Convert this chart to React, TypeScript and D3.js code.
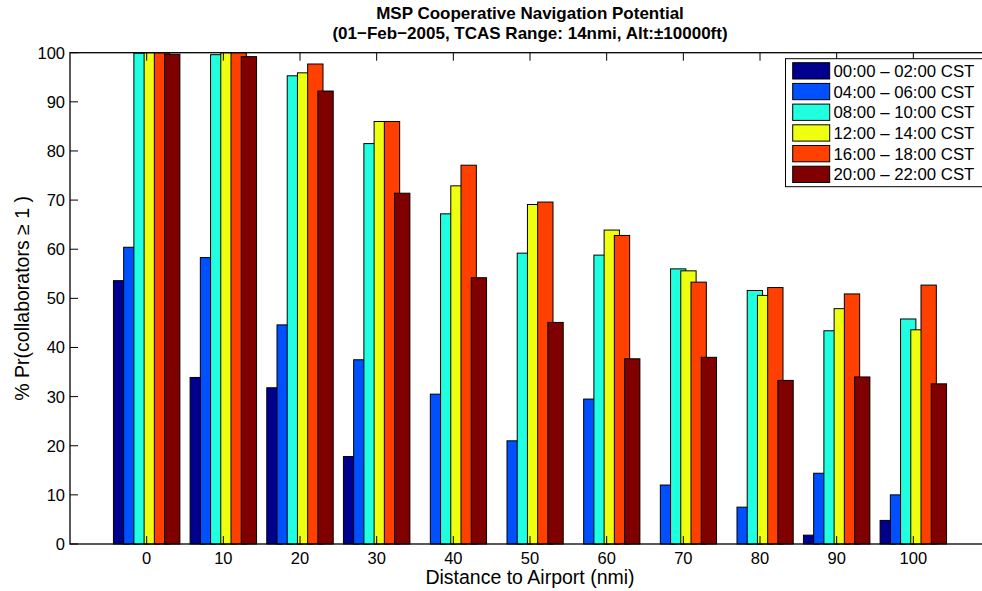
import React from "react";
import * as d3 from "d3";

// Distance bins (nmi) on the x axis
const distances = [0, 10, 20, 30, 40, 50, 60, 70, 80, 90, 100];

// Percent of aircraft with at least one collaborator, per time window
const win0002 = [53.6, 33.9, 31.8, 17.8, 0, 0, 0, 0, 0, 1.8, 4.8];
const win0406 = [60.4, 58.3, 44.6, 37.5, 30.5, 21.0, 29.5, 12.0, 7.5, 14.4, 10.0];
const win0810 = [99.9, 99.6, 95.3, 81.5, 67.2, 59.2, 58.8, 56.0, 51.6, 43.4, 45.8];
const win1214 = [100, 100, 95.9, 86.0, 72.9, 69.1, 63.9, 55.6, 50.6, 47.9, 43.6];
const win1618 = [100, 100, 97.7, 86.0, 77.1, 69.6, 62.8, 53.3, 52.2, 50.9, 52.7];
const win2022 = [99.7, 99.2, 92.2, 71.4, 54.2, 45.1, 37.7, 38.0, 33.3, 34.0, 32.6];

const seriesNames = [
  "00:00 \u2013 02:00 CST",
  "04:00 \u2013 06:00 CST",
  "08:00 \u2013 10:00 CST",
  "12:00 \u2013 14:00 CST",
  "16:00 \u2013 18:00 CST",
  "20:00 \u2013 22:00 CST",
];
const seriesValues = [win0002, win0406, win0810, win1214, win1618, win2022];
const seriesColors = ["#00008f", "#0050ff", "#20ffdf", "#efff10", "#ff4000", "#800000"];

const yTicks = [0, 10, 20, 30, 40, 50, 60, 70, 80, 90, 100];

const W = 982;
const H = 591;
const FONT = "'Liberation Sans', Arial, Helvetica, sans-serif";

export default function App() {
  const left = 70;
  const right = 990;
  const top = 52.7;
  const bottom = 544;

  const x = d3.scaleLinear().domain([-10, 110]).range([left, right]);
  const y = d3.scaleLinear().domain([0, 100]).range([bottom, top]);

  // grouped bar geometry in data units
  const nSeries = seriesValues.length;
  const step = (10 * 0.8) / nSeries;
  const barW = 2.0;
  const tickLen = 8;

  const bars: React.ReactNode[] = [];
  seriesValues.forEach((vals, s) => {
    vals.forEach((v, i) => {
      const cx = distances[i] + (s - (nSeries - 1) / 2) * step;
      const x0 = x(cx - barW / 2);
      const x1 = x(cx + barW / 2);
      bars.push(
        <rect
          key={`b-${s}-${i}`}
          x={x0}
          y={y(v)}
          width={x1 - x0}
          height={y(0) - y(v)}
          fill={seriesColors[s]}
          stroke="#000"
          strokeWidth={1}
        />
      );
    });
  });

  const legX = 785.5;
  const legY = 58.7;
  const rowH = 20.7;

  return (
    <svg
      width={W}
      height={H}
      style={{ position: "absolute", left: 0, top: 0, background: "#fff" }}
      fontFamily={FONT}
    >
      <rect x={0} y={0} width={W} height={H} fill="#fff" />
      <rect x={left} y={top} width={right - left} height={bottom - top} fill="#fff" />

      {bars}

      {/* axes box */}
      <rect
        x={left}
        y={top}
        width={right - left}
        height={bottom - top}
        fill="none"
        stroke="#000"
        strokeWidth={1.3}
      />

      {/* y ticks both sides */}
      {yTicks.map((t) => (
        <g key={`yt-${t}`}>
          <line x1={left} x2={left + tickLen} y1={y(t)} y2={y(t)} stroke="#000" strokeWidth={1} />
          <line x1={right} x2={right - tickLen} y1={y(t)} y2={y(t)} stroke="#000" strokeWidth={1} />
          <text
            x={left - 5}
            y={y(t)}
            dy="0.36em"
            textAnchor="end"
            fontSize={16.5}
            fill="#000"
          >
            {t}
          </text>
        </g>
      ))}

      {/* x ticks top and bottom */}
      {distances.map((d) => (
        <g key={`xt-${d}`}>
          <line x1={x(d)} x2={x(d)} y1={bottom} y2={bottom - tickLen} stroke="#000" strokeWidth={1} />
          <line x1={x(d)} x2={x(d)} y1={top} y2={top + tickLen} stroke="#000" strokeWidth={1} />
          <text x={x(d)} y={564} textAnchor="middle" fontSize={16.5} fill="#000">
            {d}
          </text>
        </g>
      ))}

      {/* axis labels */}
      <text x={(left + right) / 2} y={584} textAnchor="middle" fontSize={19.5} fill="#000">
        Distance to Airport (nmi)
      </text>
      <text
        transform={`translate(29,${(top + bottom) / 2}) rotate(-90)`}
        textAnchor="middle"
        fontSize={19.5}
        fill="#000"
      >
        % Pr(collaborators {"\u2265"} 1 )
      </text>

      {/* title */}
      <text x={(left + right) / 2} y={18.5} textAnchor="middle" fontSize={17} fontWeight="bold" fill="#000">
        MSP Cooperative Navigation Potential
      </text>
      <text x={(left + right) / 2} y={39} textAnchor="middle" fontSize={17} fontWeight="bold" fill="#000">
        (01{"\u2212"}Feb{"\u2212"}2005, TCAS Range: 14nmi, Alt:{"\u00b1"}10000ft)
      </text>

      {/* legend */}
      <rect x={legX} y={legY} width={202} height={128} fill="#fff" stroke="#000" strokeWidth={1} />
      {seriesNames.map((name, i) => {
        const ry = 62.7 + i * rowH;
        return (
          <g key={`lg-${i}`}>
            <rect x={792.7} y={ry} width={37} height={16.3} fill={seriesColors[i]} stroke="#000" strokeWidth={1} />
            <text x={833.5} y={ry + 8.2} dy="0.36em" fontSize={16.8} fill="#000">
              {name}
            </text>
          </g>
        );
      })}
    </svg>
  );
}
